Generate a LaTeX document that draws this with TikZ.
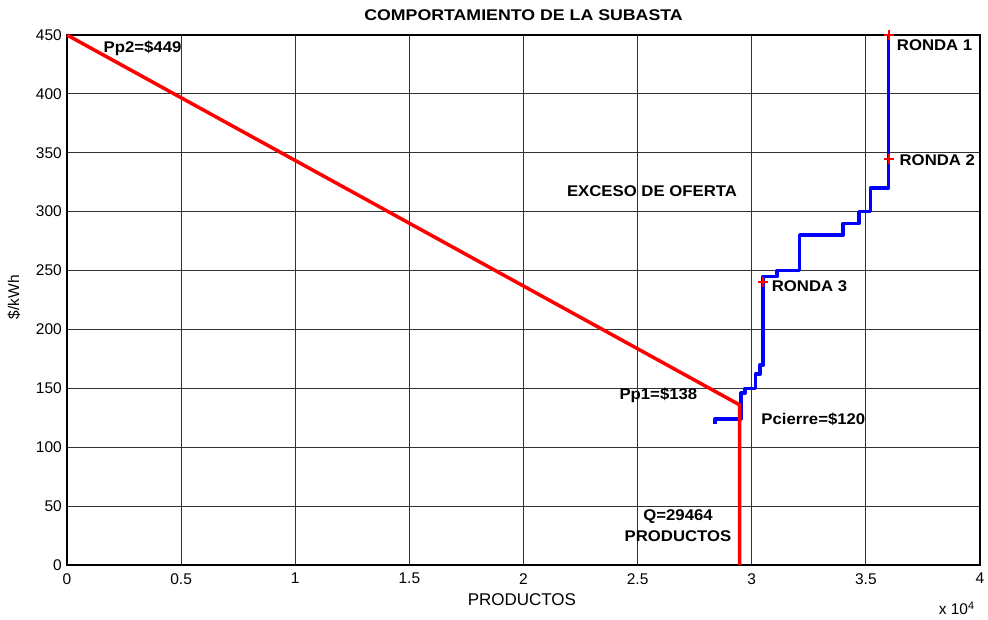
\documentclass[tikz,border=0pt]{standalone}
\usepackage{fontspec}
\setmainfont{Liberation Sans}
\begin{document}
\begin{tikzpicture}[x=228.25pt,y=1.17778pt,
  lbl/.style={font=\fontsize{15.5}{16}\selectfont\bfseries,inner sep=0pt,xscale=1.08},
  ticklbl/.style={font=\fontsize{15.5}{16}\selectfont,inner sep=0pt},
  rejilla/.style={black!80,line width=0.8pt},
  oferta/.style={blue,line width=3.5pt,line join=round},
  demanda/.style={red,line width=3.5pt,line join=round},
  ronda/.style={red,line width=2pt}]
\useasboundingbox (-67pt,-55pt) rectangle (921pt,565pt);

% grid
\foreach \x in {0.5,1,1.5,2,2.5,3,3.5} \draw[rejilla] (\x,0) -- (\x,450);
\foreach \y in {50,100,...,400} \draw[rejilla] (0,\y) -- (4,\y);

% axes box
\draw[black,line width=1.5pt] (0,0) rectangle (4,450);

% tick labels
\foreach \x [count=\i] in {0,0.5,1,1.5,2,2.5,3,3.5,4}
  \node[ticklbl,anchor=north,yshift=-8pt] (xt\i) at (\x,0) {\x};
\foreach \y in {0,50,...,450}
  \node[ticklbl,anchor=east,xshift=-5pt] (yt\y) at (0,\y) {\y};

% curves
\draw[oferta] (2.84,120) -- (2.84,124) -- (2.952,124) -- (2.952,146) -- (2.97,146)
  -- (2.97,150) -- (3.016,150) -- (3.016,162) -- (3.036,162) -- (3.036,170)
  -- (3.05,170) -- (3.05,245) -- (3.11,245) -- (3.11,250) -- (3.21,250)
  -- (3.21,280) -- (3.40,280) -- (3.40,290) -- (3.47,290) -- (3.47,300)
  -- (3.52,300) -- (3.52,320) -- (3.60,320) -- (3.60,450);
\draw[demanda] (0,450) -- (2.9464,136) -- (2.9464,0);

% round markers
\foreach \p in {(3.6,450),(3.6,345),(3.05,240)}
  \draw[ronda] \p ++(-5pt,0) -- ++(10pt,0) \p ++(0,-5pt) -- ++(0,10pt);

% labels
\node[lbl,xscale=1.06] (titulo) at (2.0,467) {COMPORTAMIENTO DE LA SUBASTA};
\node[lbl] (pp2) at (0.331,439) {Pp2=\$449};
\node[lbl] (exceso) at (2.563,317.5) {EXCESO DE OFERTA};
\node[lbl,anchor=west] (ronda1) at (3.635,441.5) {RONDA 1};
\node[lbl,anchor=west] (ronda2) at (3.647,343.9) {RONDA 2};
\node[lbl,anchor=west] (ronda3) at (3.087,236.9) {RONDA 3};
\node[lbl] (pp1) at (2.591,144.3) {Pp1=\$138};
\node[lbl] (pcierre) at (3.27,124) {Pcierre=\$120};
\node[lbl] (qtot) at (2.677,41) {Q=29464};
\node[lbl] (qprod) at (2.677,24.6) {PRODUCTOS};

% axis labels
\node[font=\fontsize{17}{17}\selectfont,inner sep=0pt] (xlab) at (1.993,-29.1) {PRODUCTOS};
\node[font=\fontsize{15.5}{16}\selectfont,inner sep=0pt,rotate=90] (ylab) at (-53pt,227.5) {\$/kWh};
\node[ticklbl] (escala) at (3.898,-36.5) {x 10\textsuperscript{4}};
\end{tikzpicture}
\end{document}
